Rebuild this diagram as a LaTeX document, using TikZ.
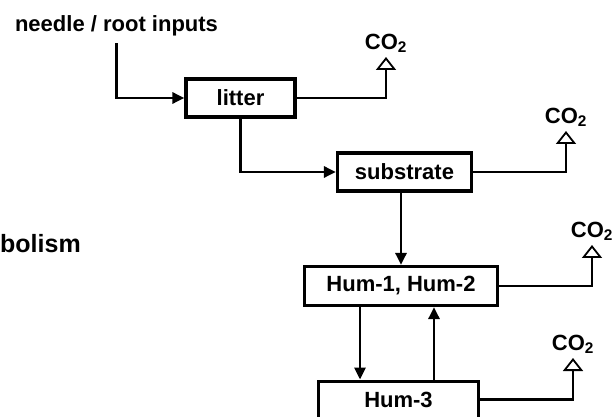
\documentclass[tikz,border=0pt]{standalone}
\usepackage{fontspec}
\setmainfont{Liberation Sans}
\usetikzlibrary{arrows.meta,positioning}

\tikzset{
  pool/.style={draw,line width=3.2pt,inner sep=0pt,minimum height=38pt,
    font=\bfseries\fontsize{22}{26}\selectfont},
  lbl/.style={font=\bfseries\fontsize{22}{26}\selectfont,inner sep=3pt},
  gas/.style={lbl,anchor=south,inner ysep=4pt},
  flow/.style={line width=2.8pt,-{Triangle[length=12pt,width=11pt]}},
  emit/.style={line width=2.8pt,-{Triangle[open,length=13pt,width=20pt,line width=1.8pt]}},
}

\begin{document}
\begin{tikzpicture}[x=1pt,y=1pt]
  \useasboundingbox (0,0) rectangle (614,-417);
  \node[lbl,anchor=base] (inputs) at (116.5,-32) {needle / root inputs};
  \node[lbl,anchor=base west,inner sep=0pt,font=\bfseries\fontsize{25}{30}\selectfont] (metab) at (0,-253) {bolism};
  \node[pool,minimum width=109pt] (litter) at (240.5,-98) {litter};
  \node[pool,minimum width=134pt] (substrate) at (404.5,-172) {substrate};
  \node[pool,minimum width=193pt,minimum height=39pt] (hum12) at (401,-286) {Hum-1, Hum-2};
  \node[pool,minimum width=160pt,minimum height=44pt,text depth=6pt,anchor=north] (hum3) at (398.5,-379.5) {Hum-3};
  \node[gas] (co2a) at (386,-57) {CO\textsubscript{2}};
  \node[gas] (co2b) at (566,-131) {CO\textsubscript{2}};
  \node[gas] (co2c) at (592,-245) {CO\textsubscript{2}};
  \node[gas] (co2d) at (573,-358) {CO\textsubscript{2}};
  \draw[flow,shorten <=3.5pt] (inputs.south) |- (litter.west);
  \draw[flow] (litter.south) |- (substrate.west);
  \draw[flow] (substrate.south -| hum12) -- (hum12.north);
  \draw[flow] ([xshift=-41pt]hum12.south) -- ([xshift=-41pt]hum12.south |- hum3.north);
  \draw[flow] ([xshift=33pt]hum12.south |- hum3.north) -- ([xshift=33pt]hum12.south);
  \draw[emit] (litter.east) -| (co2a.south);
  \draw[emit] (substrate.east) -| (co2b.south);
  \draw[emit] (hum12.east) -| (co2c.south);
  \draw[emit] ([yshift=4pt]hum3.east) -| (co2d.south);
\end{tikzpicture}
\end{document}
